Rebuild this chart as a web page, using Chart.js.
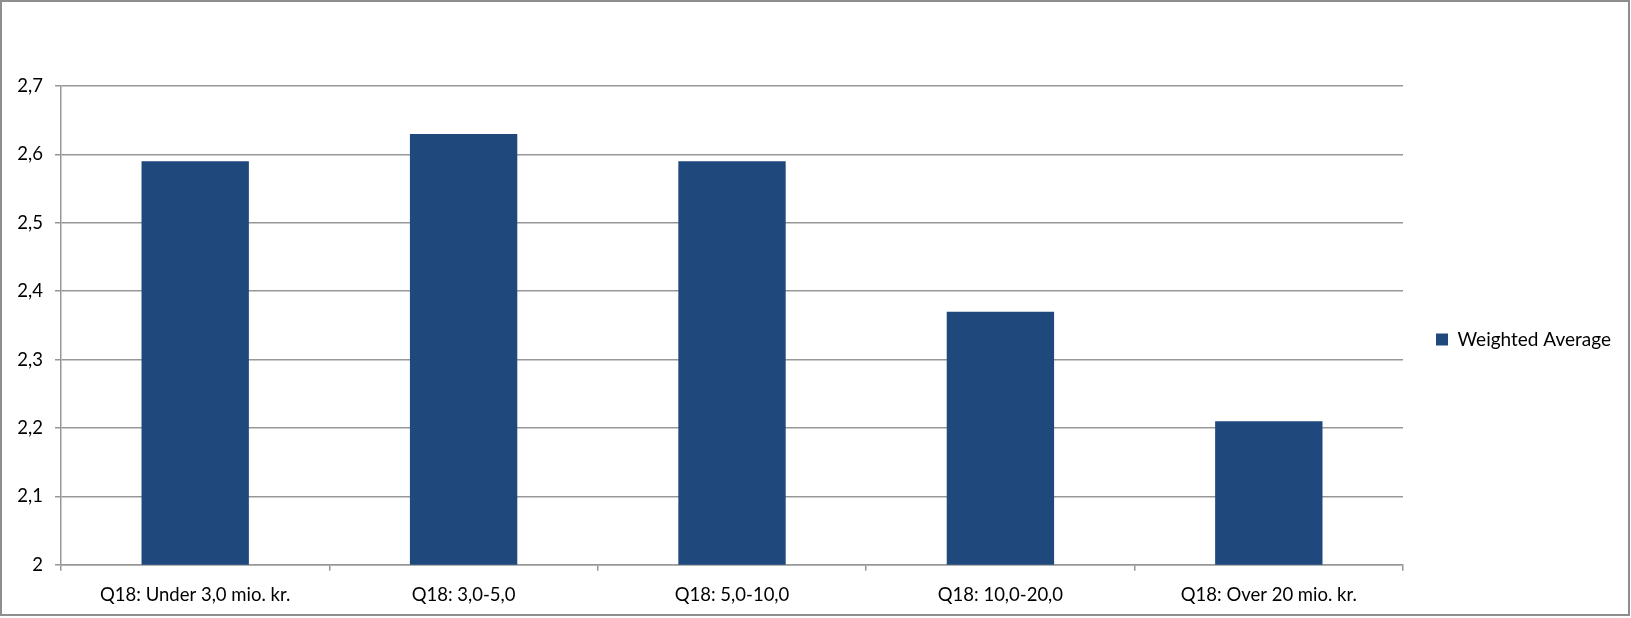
<!DOCTYPE html>
<html>
<head>
<meta charset="utf-8">
<script src="https://cdn.jsdelivr.net/npm/chart.js@4"></script>
<style>
  html, body { margin: 0; padding: 0; background: #fff; }
  #wrap { position: relative; width: 1631px; height: 618px; }
  #frame { position: absolute; left: 0; top: 0; width: 1626px; height: 612px; border: 2px solid #8e8e8e; pointer-events: none; }
</style>
</head>
<body>
<div id="wrap">
  <canvas id="chart" width="1631" height="618"></canvas>
  <div id="frame"></div>
</div>
<script>
const categories = ['Q18: Under 3,0 mio. kr.', 'Q18: 3,0-5,0', 'Q18: 5,0-10,0', 'Q18: 10,0-20,0', 'Q18: Over 20 mio. kr.'];
const weightedAverage = [2.59, 2.63, 2.59, 2.37, 2.21];
const seriesName = 'Weighted Average';
const yTicks = [2, 2.1, 2.2, 2.3, 2.4, 2.5, 2.6, 2.7];

const FONT = { family: 'Lato, "Open Sans", sans-serif', size: 18.5 };
const LEGEND_FONT = { family: 'Lato, "Open Sans", sans-serif', size: 19 };
const GRID = '#979797';

Chart.defaults.color = '#000';
Chart.defaults.font = FONT;

// legend sits a little above the centre of its column, as in the original
const legendLift = {
  id: 'legendLift',
  afterLayout(chart) {
    if (!chart.legend) return;
    chart.legend.top -= 13;
    chart.legend.bottom -= 13;
  }
};

new Chart(document.getElementById('chart').getContext('2d'), {
  type: 'bar',
  data: {
    labels: categories,
    datasets: [{
      label: seriesName,
      data: weightedAverage,
      backgroundColor: '#1f497d',
      borderWidth: 0,
      barPercentage: 0.4,
      categoryPercentage: 1
    }]
  },
  options: {
    responsive: false,
    animation: false,
    layout: { padding: { top: 86, left: 0, right: 10, bottom: -1 } },
    plugins: {
      tooltip: { enabled: false },
      legend: {
        position: 'right',
        labels: { boxWidth: 12, boxHeight: 12, padding: 33, font: LEGEND_FONT, color: '#000' }
      }
    },
    scales: {
      x: {
        grid: { display: true, drawOnChartArea: false, color: GRID, lineWidth: 1.5, tickLength: 6, offset: true },
        border: { display: true, color: GRID, width: 1.5 },
        ticks: { padding: 13, font: FONT, color: '#000', maxRotation: 0 }
      },
      y: {
        min: 2, max: 2.7,
        afterBuildTicks: s => { s.ticks = yTicks.map(v => ({ value: v })); },
        afterFit: s => { s.width = 61; },
        grid: { color: GRID, lineWidth: 1.5, tickLength: 6 },
        border: { display: true, color: GRID, width: 1.5 },
        ticks: {
          padding: 12, font: FONT, color: '#000',
          callback: v => String(Math.round(v * 10) / 10).replace('.', ',')
        }
      }
    }
  },
  plugins: [legendLift]
});
</script>
</body>
</html>
